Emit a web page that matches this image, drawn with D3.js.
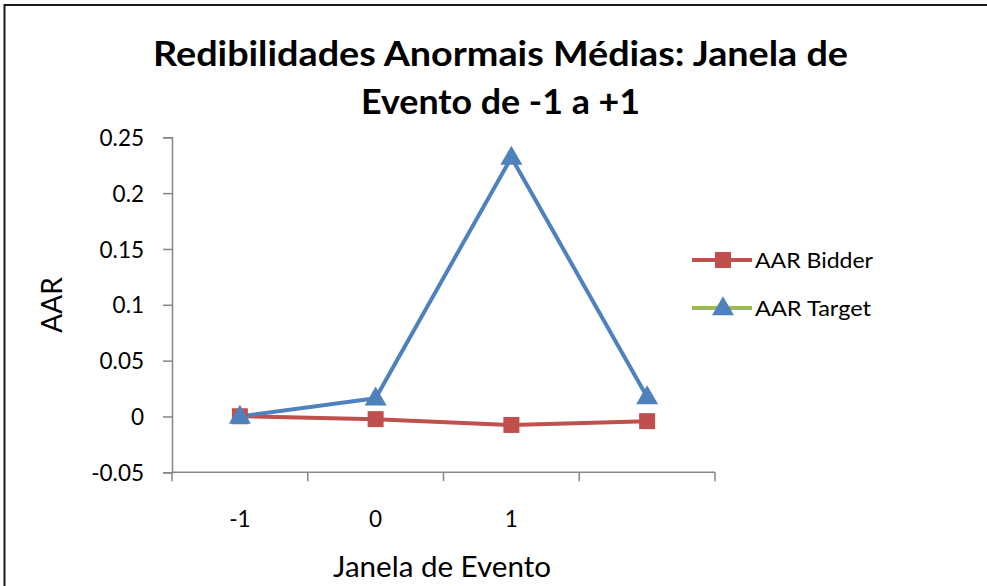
<!DOCTYPE html>
<html>
<head>
<meta charset="utf-8">
<script src="https://cdn.jsdelivr.net/npm/d3@7"></script>
<style>
  html, body { margin: 0; padding: 0; background: #fff; overflow: hidden; }
  svg { display: block; }
  text { font-family: Lato, "Open Sans", sans-serif; fill: #000; }
</style>
</head>
<body>
<svg id="chart" width="987" height="586"></svg>
<script>
// Event-window categories and average abnormal returns
const categories = ["-1", "0", "1", "2"];
const tickLabels = ["-1", "0", "1", ""];
const bidder = [0.0002, -0.0024, -0.0076, -0.0042];
const target = [0.0000, 0.0163, 0.2320, 0.0175];
const yTicks = [-0.05, 0, 0.05, 0.1, 0.15, 0.2, 0.25];
const seriesNames = ["AAR Bidder", "AAR Target"];

const svg = d3.select("#chart");

// outer frame (open to the right and bottom)
svg.append("path")
  .attr("d", "M4.5,600 L4.5,5 L1000,5")
  .attr("fill", "none")
  .attr("stroke", "#1a1a1a")
  .attr("stroke-width", 2);

const x = d3.scaleBand().domain(categories).range([172, 715]);
const y = d3.scaleLinear().domain([-0.05, 0.25]).range([472.3, 137.3]);
const cx = c => x(c) + x.bandwidth() / 2;

const axisColor = "#868686";
const tickFont = 22.5;

// y axis
const yAxis = svg.append("g").attr("transform", "translate(172,0)")
  .call(d3.axisLeft(y).tickValues(yTicks).tickSize(9).tickPadding(19)
    .tickFormat(d => d === 0 ? "0" : String(+d.toFixed(2))));
yAxis.select(".domain").attr("stroke", axisColor).attr("stroke-width", 1.5);
yAxis.selectAll(".tick line").attr("stroke", axisColor).attr("stroke-width", 1.5);
yAxis.selectAll(".tick text").attr("font-size", tickFont).attr("font-family", "Lato, sans-serif")
  .attr("fill", "#000").attr("dy", "0.36em");

// x axis with tick marks on band edges
const xAxisG = svg.append("g").attr("transform", "translate(0,472.3)");
xAxisG.append("line").attr("x1", 172).attr("x2", 715)
  .attr("stroke", axisColor).attr("stroke-width", 1.5);
const edges = categories.map(c => x(c)).concat([x(categories[categories.length - 1]) + x.bandwidth()]);
xAxisG.selectAll("line.tk").data(edges).join("line").attr("class", "tk")
  .attr("x1", d => d).attr("x2", d => d).attr("y1", 0).attr("y2", 9)
  .attr("stroke", axisColor).attr("stroke-width", 1.5);
xAxisG.selectAll("text").data(categories).join("text")
  .attr("x", d => cx(d)).attr("y", 55)
  .attr("text-anchor", "middle").attr("font-size", tickFont)
  .text((d, i) => tickLabels[i]);

// lines
const line = d3.line().x((d, i) => cx(categories[i])).y(d => y(d));
svg.append("path").datum(bidder).attr("d", line)
  .attr("fill", "none").attr("stroke", "#C0504D").attr("stroke-width", 4).attr("stroke-linejoin", "round");
svg.append("path").datum(target).attr("d", line)
  .attr("fill", "none").attr("stroke", "#4F81BD").attr("stroke-width", 4).attr("stroke-linejoin", "round");

const square = d3.symbol().type(d3.symbolSquare).size(256);
const tri = d3.symbol().type(d3.symbolTriangle).size(210);

svg.selectAll("path.sq").data(bidder).join("path").attr("class", "sq")
  .attr("d", square)
  .attr("transform", (d, i) => `translate(${cx(categories[i])},${y(d)})`)
  .attr("fill", "#C0504D");
svg.selectAll("path.tr").data(target).join("path").attr("class", "tr")
  .attr("d", tri)
  .attr("transform", (d, i) => `translate(${cx(categories[i])},${y(d) + 1})`)
  .attr("fill", "#4F81BD");

// title
const title = svg.append("text").attr("text-anchor", "middle").attr("font-weight", "bold").attr("font-size", 35);
title.append("tspan").attr("x", 500.5).attr("y", 66)
  .attr("textLength", 695).attr("lengthAdjust", "spacingAndGlyphs")
  .text("Redibilidades Anormais Médias: Janela de");
title.append("tspan").attr("x", 500.5).attr("y", 114)
  .attr("textLength", 279).attr("lengthAdjust", "spacingAndGlyphs")
  .text("Evento de -1 a +1");

// axis titles
svg.append("text").attr("transform", "translate(62,305) rotate(-90)")
  .attr("text-anchor", "middle").attr("font-size", 28).text("AAR");
svg.append("text").attr("x", 442).attr("y", 577)
  .attr("text-anchor", "middle").attr("font-size", 28)
  .attr("textLength", 218).attr("lengthAdjust", "spacingAndGlyphs")
  .text("Janela de Evento");

// legend
const legend = svg.append("g");
const legendRows = [
  { y: 260, line: "#C0504D", marker: square, fill: "#C0504D", dy: 0, w: 118 },
  { y: 308, line: "#9BBB59", marker: tri, fill: "#4F81BD", dy: 1, w: 116 }
];
legendRows.forEach((r, i) => {
  legend.append("line").attr("x1", 692).attr("x2", 752).attr("y1", r.y).attr("y2", r.y)
    .attr("stroke", r.line).attr("stroke-width", 4);
  legend.append("path").attr("d", r.marker).attr("fill", r.fill)
    .attr("transform", `translate(723,${r.y + r.dy})`);
  legend.append("text").attr("x", 755).attr("y", r.y).attr("dy", "0.36em")
    .attr("font-size", 22)
    .attr("textLength", r.w).attr("lengthAdjust", "spacingAndGlyphs")
    .text(seriesNames[i]);
});
</script>
</body>
</html>
